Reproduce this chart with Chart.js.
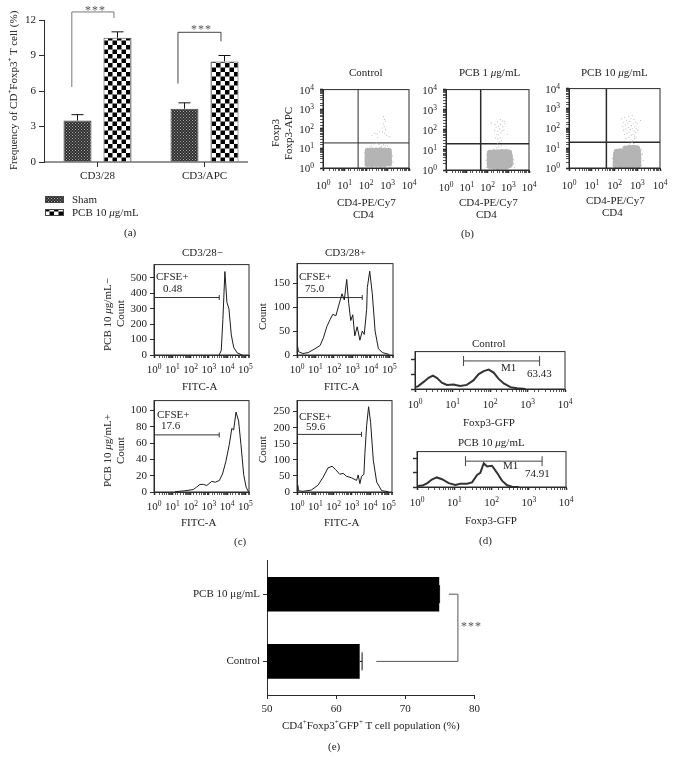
<!DOCTYPE html>
<html>
<head>
<meta charset="utf-8">
<script src="https://cdn.jsdelivr.net/npm/chart.js@4"></script>
<style>
  html, body { margin: 0; background: #fff; }
  #page { position: relative; width: 673px; height: 768px; overflow: hidden; }
  canvas { position: absolute; }
  .lbl { position: absolute; white-space: nowrap; font: 11px/1 "Liberation Serif", serif; color: #222;
         transform-origin: 0 0; will-change: transform; }
  .lbl sup { font-size: 7px; line-height: 0; }
  .lbl.star { letter-spacing: 1px; color: #555; font-size: 12px; }
</style>
</head>
<body>
<div id="page"></div>
<script>
// (a) bars
const groupLabels = ['CD3/28', 'CD3/APC'];
const shamValues = [3.5, 4.5];
const shamErrors = [0.5, 0.5];
const pcbValues = [10.5, 8.5];
const pcbErrors = [0.5, 0.5];
const bracketOne = [[-0.24, 6.34], [-0.24, 12.68], [0.154, 12.68], [0.154, 12.17]];
const bracketTwo = [[0.752, 6.63], [0.752, 10.96], [1.154, 10.96], [1.154, 10.2]];

// (b) dot plots, gray blobs and the sparse events around them
const logBase = '10';
const logExponents = ['0', '1', '2', '3', '4', '5'];
const controlBlob = [[117,1.6],[186,1.5],[295,1.6],[468,1.5],[741,1.6],[1175,1.7],[117,2.4],[186,2.4],[295,2.3],[468,2.4],[741,2.4],[1175,2.4],
  [117,3.6],[186,3.6],[295,3.6],[468,3.6],[741,3.6],[1175,3.6],[117,5.5],[186,5.5],[295,5.4],[468,5.5],[741,5.5],[1175,5.4],
  [120,7.6],[186,7.9],[295,7.9],[468,8],[741,7.9],[1150,7.6]];
const controlSparse = [[650,420],[720,300],[800,250],[640,180],[700,130],[830,90],[600,70],[760,60],[900,45],[560,110],[190,45],[260,60],[330,55],
  [420,70],[350,35],[1200,40],[180,14],[240,17],[310,19],[400,16],[520,13],[650,15],[820,14],[150,12],[1000,13],[90,3],[85,6],[1800,2],[1700,4],[1600,1.3],[1400,1.1],[300,1.05],[700,1.05]];
const lowBlob = [[130,1.6],[200,1.5],[316,1.4],[501,1.5],[794,1.5],[1100,1.7],[126,2.2],[200,2.2],[316,2.2],[501,2.2],[794,2.2],[1260,2.3],
  [126,3.4],[200,3.4],[316,3.4],[501,3.4],[794,3.4],[1260,3.3],[126,5.1],[200,5.1],[316,5.1],[501,5.1],[794,5.1],[1200,5],
  [130,7.3],[200,7.6],[316,7.6],[501,7.8],[794,7.8],[1100,7.4]];
const lowSparse = [[230,180],[300,250],[420,320],[520,280],[640,260],[700,200],[260,130],[340,150],[430,190],[560,140],[220,90],[310,85],[390,110],
  [500,90],[620,100],[280,60],[350,55],[440,70],[240,40],[320,35],[410,42],[370,25],[300,22],[900,60],[150,220],[480,30],[350,14],[460,16],[280,13],
  [2000,1.3],[1800,2],[1700,3.2],[1600,1.6],[90,1.3],[85,3],[95,6]];
const highBlob = [[112,1.4],[178,1.35],[282,1.35],[447,1.35],[708,1.35],[1122,1.4],[112,2],[178,2],[282,2],[447,2],[708,2],[1122,2],
  [112,3.1],[178,3.1],[282,3.1],[447,3.1],[708,3.1],[1122,3.1],[115,4.7],[178,4.7],[282,4.7],[447,4.7],[708,4.7],[1122,4.7],
  [125,6.6],[178,7],[282,7.1],[447,7.3],[708,7.3],[1080,7.1],[300,9.6],[450,10.4],[700,10.4],[980,9.8]];
const highSparse = [[200,300],[240,200],[280,360],[340,240],[420,400],[520,310],[600,450],[720,280],[860,200],[1000,170],[230,120],[300,150],[380,180],
  [470,220],[560,140],[680,170],[780,120],[900,100],[250,80],[320,90],[410,110],[500,85],[610,95],[730,75],[840,60],[1050,80],[280,50],[360,55],[440,65],
  [540,45],[650,50],[770,40],[900,35],[320,30],[430,35],[530,28],[640,25],[760,30],[380,22],[480,18],[590,20],[700,17],[1400,250],[1600,1.3],[1800,2.4],
  [1700,5],[85,1.3],[80,3],[90,6],[1500,9]];

// (c) CFSE histograms
const negLowX = [3700,4800,5900,7600,9800,12600,17000,23000,35000,66000];
const negLowY = [0,30,230,540,340,300,130,50,15,0];
const posLowX = [1,1.05,1.2,2.1,4,9.4,18,27,41,62,87,128,178,273,366,493,633,817,1050,1350,1820,2560,3420,4390,5920,6460,8690,12000,17000,25700,43000,100000];
const posLowY = [0,20,7,3,5,13,20,36,59,74,85,82,102,128,115,158,108,72,84,40,59,31,50,43,95,141,175,128,50,13,5,1];
const negHighX = [14,49,141,214,331,501,776,1450,2240,3720,5620,8510,13200,18200,22900,30900,42700,57500,81300,110000,151000];
const negHighY = [0.4,1.5,3,6,9.3,9.3,8,13,12,14,22,37,58,78,76,98,87,58,21,6,0];
const posHighX = [1,1.1,1.2,2.1,6.1,14,27,50,84,128,220,336,513,970,1820,2240,2770,3420,4600,5200,6460,8300,10700,15000,23000,43000,100000];
const posHighY = [0,21,4,2,6,21,46,75,80,70,55,58,49,44,36,53,26,49,55,119,206,265,216,99,31,4,1];

// (d) Foxp3-GFP histograms
const gfpControlX = [1,1.2,1.7,2.3,3,3.8,5.2,7.1,10.6,16,24,36,50,68,92,125,170,233,350,530,885];
const gfpControlY = [5,7,19,30,36,30,17,11,12,8,11,23,40,48,52,44,27,15,5,2,0];
const gfpPcbX = [1,1.4,1.9,2.5,3.4,4.7,7.1,10.7,14.6,22,30,41,50,62,76,103,141,191,263,355,537];
const gfpPcbY = [3,4,11,21,27,22,11,6,9,9,13,34,40,67,58,60,40,18,5,1,0];

// (e) horizontal bars
const popLabels = ['PCB 10 μg/mL', 'Control'];
const popValues = [74.9, 63.4];
const popErrors = [0.05, 0.35];
const popBracket = [[65.8, 1], [77.6, 1], [77.6, 0], [76.3, 0]];

// text that is not a tick label: html, x, y, rotated, class
const labels = [
  ['Frequency of CD<sup>+</sup>Foxp3<sup>+</sup> T cell (%)', 13, 90, true],
  ['***', 95, 10, false, 'star'], ['***', 201, 29, false, 'star'],
  ['Sham', 84, 199], ['PCB 10 <i>μ</i>g/mL', 105, 212], ['(a)', 130, 232],
  ['Control', 366, 72], ['PCB 1 <i>μ</i>g/mL', 489, 72], ['PCB 10 <i>μ</i>g/mL', 614, 72],
  ['Foxp3', 275, 133, true], ['Foxp3-APC', 288, 133, true],
  ['CD4-PE/Cy7', 366, 202], ['CD4', 363, 214], ['CD4-PE/Cy7', 488, 202], ['CD4', 486, 214],
  ['CD4-PE/Cy7', 615, 200], ['CD4', 612, 212], ['(b)', 467, 233],
  ['CD3/28−', 202, 252], ['CD3/28+', 345, 252],
  ['PCB 10 <i>μ</i>g/mL−', 107, 314, true], ['Count', 120, 313, true], ['Count', 262, 316, true],
  ['PCB 10 <i>μ</i>g/mL+', 107, 450, true], ['Count', 120, 450, true], ['Count', 262, 449, true],
  ['CFSE+', 172, 276], ['0.48', 172, 288], ['CFSE+', 315, 276], ['75.0', 314, 288],
  ['CFSE+', 173, 414], ['17.6', 170, 425], ['CFSE+', 315, 416], ['59.6', 315, 426],
  ['FITC-A', 199, 386], ['FITC-A', 341, 386], ['FITC-A', 198, 522], ['FITC-A', 341, 522], ['(c)', 240, 541],
  ['Control', 489, 343], ['M1', 508, 367], ['63.43', 539, 373], ['Foxp3-GFP', 489, 422],
  ['PCB 10 <i>μ</i>g/mL', 491, 442], ['M1', 510, 465], ['74.91', 537, 473], ['Foxp3-GFP', 491, 520], ['(d)', 485, 540],
  ['***', 471, 626, false, 'star'],
  ['CD4<sup>+</sup>Foxp3<sup>+</sup>GFP<sup>+</sup> T cell population (%)', 371, 725], ['(e)', 334, 746]
];

Chart.defaults.font.family = '"Liberation Serif", serif';
Chart.defaults.font.size = 11;
Chart.defaults.color = '#222';
Chart.defaults.animation = false;

const page = document.getElementById('page');
const ink = '#2b2b2b';
const dotGray = '#b4b4b4';

function pattern(size, draw) {
  const c = document.createElement('canvas');
  c.width = c.height = size;
  draw(c.getContext('2d'));
  return c.getContext('2d').createPattern(c, 'repeat');
}
const shamFill = pattern(3, g => {
  g.fillStyle = '#2e2e2e'; g.fillRect(0, 0, 3, 3);
  g.fillStyle = '#a8a8a8'; g.fillRect(0, 0, 1, 1); g.fillRect(1.5, 1.5, 1, 1);
});
const pcbFill = pattern(9, g => {
  g.fillStyle = '#fff'; g.fillRect(0, 0, 9, 9);
  g.fillStyle = '#000'; g.fillRect(0, 0, 4.5, 4.5); g.fillRect(4.5, 4.5, 4.5, 4.5);
});

function addCanvas(box, m) {
  const c = document.createElement('canvas');
  c.width = box.w + m.l + m.r;
  c.height = box.h + m.t + m.b;
  c.style.left = (box.x - m.l) + 'px';
  c.style.top = (box.y - m.t) + 'px';
  page.appendChild(c);
  return c;
}

function baseOptions(m, scales, extra) {
  scales.x.afterFit = s => { s.height = m.b; };
  scales.y.afterFit = s => { s.width = m.l; };
  return Object.assign({
    responsive: false,
    layout: { autoPadding: false, padding: { top: m.t, right: m.r, left: 0, bottom: 0 } },
    plugins: { legend: { display: false }, tooltip: { enabled: false } },
    scales
  }, extra || {});
}

const isPower = v => Math.abs(Math.log10(v) - Math.round(Math.log10(v))) < 1e-9;

function logAxis(min, max, padding, showLabels) {
  return {
    type: 'logarithmic', min, max,
    border: { color: ink },
    grid: {
      drawOnChartArea: false, tickLength: 3, tickColor: ink,
      tickWidth: c => (c.tick && isPower(c.tick.value) ? 1.6 : 0.8)
    },
    ticks: { autoSkip: false, maxRotation: 0, padding, callback: () => '' },
    showPowers: showLabels !== false
  };
}

function linAxis(min, max, step, padding) {
  return {
    min, max,
    border: { color: ink },
    grid: { drawOnChartArea: false, tickLength: 4, tickColor: ink },
    ticks: { stepSize: step, includeBounds: false, padding }
  };
}

const xy = (xs, ys) => xs.map((x, i) => ({ x, y: ys[i] }));
const pairs = list => list.map(p => ({ x: p[0], y: p[1] }));

const framePlugin = {
  id: 'frame',
  afterDraw(chart) {
    const { ctx, chartArea: a } = chart;
    ctx.save();
    ctx.strokeStyle = ink;
    ctx.lineWidth = 1;
    ctx.strokeRect(a.left, a.top, a.right - a.left, a.bottom - a.top);
    ctx.restore();
  }
};

// 10 with a raised exponent, the tick callback can't do this
const powerLabels = {
  id: 'powerLabels',
  afterDraw(chart) {
    const g = chart.ctx;
    g.save();
    g.fillStyle = '#222';
    g.textBaseline = 'alphabetic';
    g.textAlign = 'left';
    [chart.scales.x, chart.scales.y].forEach(scale => {
      if (scale.type !== 'logarithmic' || !scale.options.showPowers) return;
      logExponents.forEach((exp, i) => {
        const v = Math.pow(10, i);
        if (v > scale.max) return;
        const p = scale.getPixelForValue(v);
        const pad = scale.options.ticks.padding + 3;
        g.font = '11px "Liberation Serif", serif';
        const wBase = g.measureText(logBase).width;
        g.font = '7.5px "Liberation Serif", serif';
        const wExp = g.measureText(exp).width;
        const left = scale.isHorizontal() ? p - (wBase + wExp) / 2 : scale.right - pad - wBase - wExp;
        const base = scale.isHorizontal() ? scale.top + pad + 9 : p + 4;
        g.font = '11px "Liberation Serif", serif';
        g.fillText(logBase, left, base);
        g.font = '7.5px "Liberation Serif", serif';
        g.fillText(exp, left + wBase, base - 4);
      });
    });
    g.restore();
  }
};

// brackets, partial axis lines and error bars
function marksPlugin(paths, horizontal, cap) {
  return {
    id: 'marks',
    afterDraw(chart) {
      const { ctx, scales } = chart;
      ctx.save();
      paths.forEach(p => {
        ctx.beginPath();
        p.pts.forEach((pt, i) => {
          const px = scales.x.getPixelForValue(pt[0]);
          const py = scales.y.getPixelForValue(pt[1]);
          if (i === 0) ctx.moveTo(px, py); else ctx.lineTo(px, py);
        });
        ctx.strokeStyle = p.color;
        ctx.lineWidth = p.width || 1;
        ctx.stroke();
      });
      chart.data.datasets.forEach((ds, d) => {
        chart.getDatasetMeta(d).data.forEach((el, i) => {
          ctx.beginPath();
          if (horizontal) {
            const end = scales.x.getPixelForValue(ds.data[i] + ds.errs[i]);
            ctx.moveTo(el.x, el.y); ctx.lineTo(end, el.y);
            ctx.moveTo(end, el.y - cap); ctx.lineTo(end, el.y + cap);
          } else {
            const end = scales.y.getPixelForValue(ds.data[i] + ds.errs[i]);
            ctx.moveTo(el.x, el.y); ctx.lineTo(el.x, end);
            ctx.moveTo(el.x - cap, end); ctx.lineTo(el.x + cap, end);
          }
          ctx.strokeStyle = '#111';
          ctx.lineWidth = 1;
          ctx.stroke();
        });
      });
      ctx.restore();
    }
  };
}

// (a)
function drawBars() {
  const box = { x: 44, y: 20, w: 214, h: 142 };
  const m = { l: 44, t: 20, r: 6, b: 60 };
  const c = addCanvas(box, m);
  const swatches = {
    id: 'swatches',
    afterDraw(chart) {
      const g = chart.ctx;
      g.save();
      chart.data.datasets.forEach((ds, i) => {
        const y = 196 + i * 13;
        g.fillStyle = ds.backgroundColor;
        g.fillRect(45, y, 19, 6.5);
        g.strokeStyle = '#444';
        g.strokeRect(45.5, y + 0.5, 18, 6);
      });
      g.restore();
    }
  };
  new Chart(c, {
    type: 'bar',
    data: {
      labels: groupLabels,
      datasets: [
        { label: 'Sham', data: shamValues, errs: shamErrors, backgroundColor: shamFill, borderColor: '#444', borderWidth: 1, categoryPercentage: 0.748, barPercentage: 0.7 },
        { label: 'PCB 10 μg/mL', data: pcbValues, errs: pcbErrors, backgroundColor: pcbFill, borderColor: '#444', borderWidth: 1, categoryPercentage: 0.748, barPercentage: 0.7 }
      ]
    },
    options: baseOptions(m, {
      x: {
        border: { display: false },
        grid: { drawOnChartArea: false, offset: false, tickLength: 5, tickColor: ink },
        ticks: { padding: 3, maxRotation: 0 }
      },
      y: {
        min: 0, max: 12,
        border: { color: ink },
        grid: { drawOnChartArea: false, tickLength: 5, tickColor: ink },
        ticks: { stepSize: 3, padding: 3 }
      }
    }),
    plugins: [marksPlugin([
      { pts: [[-0.5, 0], [1.407, 0]], color: ink },
      { pts: bracketOne, color: '#777' },
      { pts: bracketTwo, color: '#444' }
    ], false, 6), swatches]
  });
}

// (b)
function drawDots(box, blob, sparse, vx, hy, lineWidth) {
  const m = { l: 30, t: 4, r: 10, b: 26 };
  new Chart(addCanvas(box, m), {
    type: 'scatter',
    data: {
      datasets: [
        { data: pairs(blob), pointRadius: 3, backgroundColor: dotGray, borderWidth: 0 },
        { data: pairs(sparse), pointRadius: 0.6, backgroundColor: '#bdbdbd', borderWidth: 0 },
        { data: [{ x: 1, y: hy }, { x: 10000, y: hy }], showLine: true, pointRadius: 0, borderColor: ink, borderWidth: lineWidth },
        { data: [{ x: vx, y: 1 }, { x: vx, y: 10000 }], showLine: true, pointRadius: 0, borderColor: ink, borderWidth: lineWidth }
      ]
    },
    options: baseOptions(m, { x: logAxis(1, 10000, 9), y: logAxis(1, 10000, 6) }),
    plugins: [framePlugin, powerLabels]
  });
}

// (c)
function drawHist(box, xs, ys, yMax, step, gateX, gateY) {
  const m = { l: 38, t: 4, r: 6, b: 24 };
  new Chart(addCanvas(box, m), {
    type: 'scatter',
    data: {
      datasets: [
        { data: xy(xs, ys), showLine: true, tension: 0, pointRadius: 0, borderColor: '#1c1c1c', borderWidth: 1 },
        {
          data: [{ x: 1, y: gateY }, { x: gateX, y: gateY }], showLine: true, borderColor: '#333', borderWidth: 1,
          pointStyle: 'line', pointRotation: 90, pointRadius: [0, 2.5], pointBorderColor: '#333', pointBorderWidth: 1
        }
      ]
    },
    options: baseOptions(m, { x: logAxis(1, 158489, 6), y: linAxis(0, yMax, step, 3) }),
    plugins: [framePlugin, powerLabels]
  });
}

// (d)
function drawGfp(box, xs, ys, gateFrom, gateTo, gateY) {
  const m = { l: 6, t: 4, r: 10, b: 24 };
  new Chart(addCanvas(box, m), {
    type: 'scatter',
    data: {
      datasets: [
        { data: xy(xs, ys), showLine: true, tension: 0, pointRadius: 0, borderColor: '#333', borderWidth: 2 },
        {
          data: [{ x: gateFrom, y: gateY }, { x: gateTo, y: gateY }], showLine: true, borderColor: '#444', borderWidth: 1,
          pointStyle: 'line', pointRotation: 90, pointRadius: 5, pointBorderColor: '#444', pointBorderWidth: 1
        }
      ]
    },
    options: baseOptions(m, {
      x: logAxis(1, 10000, 7),
      y: {
        min: 0, max: 100,
        border: { color: ink },
        grid: { drawOnChartArea: false, tickLength: 4, tickColor: ink, tickWidth: 1.4 },
        ticks: { stepSize: 10, callback: () => '', padding: 0 }
      }
    }),
    plugins: [framePlugin, powerLabels]
  });
}

// (e)
function drawPopulation() {
  const box = { x: 267, y: 555, w: 209, h: 140 };
  const m = { l: 90, t: 4, r: 8, b: 24 };
  new Chart(addCanvas(box, m), {
    type: 'bar',
    data: {
      labels: popLabels,
      datasets: [{ data: popValues, errs: popErrors, backgroundColor: '#000', categoryPercentage: 1, barPercentage: 36 / 70 }]
    },
    options: baseOptions(m, {
      x: {
        min: 50, max: 80,
        border: { color: ink },
        grid: { drawOnChartArea: false, tickLength: 4, tickColor: ink },
        ticks: { stepSize: 10, padding: 4 }
      },
      y: {
        border: { color: ink },
        grid: { drawOnChartArea: false, offset: false, tickLength: 4, tickColor: ink },
        ticks: { padding: 3 }
      }
    }, { indexAxis: 'y' }),
    plugins: [marksPlugin([{ pts: popBracket, color: '#555' }], true, 9)]
  });
}

drawBars();
drawDots({ x: 323, y: 81, w: 86, h: 87 }, controlBlob, controlSparse, 43, 19, 1);
drawDots({ x: 446, y: 81, w: 83, h: 89 }, lowBlob, lowSparse, 47, 20, 1.5);
drawDots({ x: 569, y: 80, w: 91, h: 88 }, highBlob, highSparse, 44, 20, 1.5);
drawHist({ x: 154, y: 259, w: 95, h: 96 }, negLowX, negLowY, 585, 100, 3720, 372);
drawHist({ x: 297, y: 258, w: 96, h: 97 }, posLowX, posLowY, 191, 50, 3420, 120);
drawHist({ x: 154, y: 395, w: 95, h: 97 }, negHighX, negHighY, 112, 20, 3720, 70);
drawHist({ x: 297, y: 395, w: 95, h: 97 }, posHighX, posHighY, 284, 50, 3420, 179);
drawGfp({ x: 414, y: 349, w: 151, h: 40 }, gfpControlX, gfpControlY, 19.7, 2100, 75);
drawGfp({ x: 416, y: 449, w: 150, h: 38 }, gfpPcbX, gfpPcbY, 20, 2280, 73);
drawPopulation();

// whole-pixel placement keeps the layers sharp, rotated ones especially
labels.forEach(l => {
  const d = document.createElement('div');
  d.className = 'lbl' + (l[4] ? ' ' + l[4] : '');
  d.innerHTML = l[0];
  page.appendChild(d);
  const w = d.offsetWidth;
  const h = d.offsetHeight;
  if (l[3]) {
    d.style.left = Math.round(l[1] - h / 2) + 'px';
    d.style.top = Math.round(l[2] + w / 2) + 'px';
    d.style.transform = 'rotate(-90deg)';
  } else {
    d.style.left = Math.round(l[1] - w / 2) + 'px';
    d.style.top = Math.round(l[2] - h / 2) + 'px';
  }
});
</script>
</body>
</html>
